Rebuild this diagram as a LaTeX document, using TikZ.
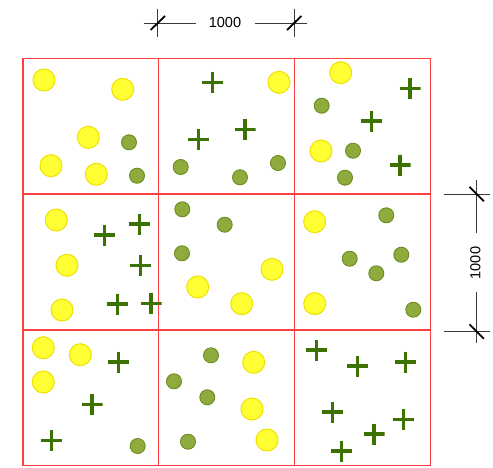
\documentclass[tikz,border=0pt]{standalone}
\usepackage{fontspec}
\setmainfont{Liberation Sans}
\definecolor{gridred}{HTML}{FF3F3F}
\definecolor{yelfill}{HTML}{FFFF33}
\definecolor{yeldraw}{HTML}{EEE000}
\definecolor{grnfill}{HTML}{8FAB3E}
\definecolor{grndraw}{HTML}{6A8C1E}
\definecolor{plusgreen}{HTML}{3B7200}
\definecolor{dimgray}{HTML}{3A3A3A}
\tikzset{
  gridline/.style={draw=gridred, line width=1.3pt},
  yel/.style={circle, fill=yelfill, draw=yeldraw, line width=1pt, minimum size=22pt, inner sep=0pt},
  grn/.style={circle, fill=grnfill, draw=grndraw, line width=0.9pt, minimum size=15pt, inner sep=0pt},
  pl/.style={rectangle, minimum size=21pt, inner sep=0pt,
    path picture={\draw[plusgreen, line width=3.4pt]
      (path picture bounding box.north) -- (path picture bounding box.south)
      (path picture bounding box.west) -- (path picture bounding box.east);}},
  dimline/.style={draw=dimgray, line width=0.9pt},
  slashline/.style={draw=black, line width=1.8pt},
  dimtext/.style={font=\fontsize{14.5}{14.5}\selectfont, text=black, inner sep=0pt}
}
\begin{document}
\begin{tikzpicture}[x=1pt,y=-1pt]
\useasboundingbox (0,0) rectangle (493,467);
% grid
\draw[gridline] (23,58.3) rectangle (430.4,465.7);
\draw[gridline] (158.8,58.3) -- (158.8,465.7);
\draw[gridline] (294.6,58.3) -- (294.6,465.7);
\draw[gridline] (23,194.1) -- (430.4,194.1);
\draw[gridline] (23,329.9) -- (430.4,329.9);

% cell 1,1
\node[yel] (y1) at (44,80) {};
\node[yel] (y2) at (122.7,89.3) {};
\node[yel] (y3) at (88.3,137.3) {};
\node[yel] (y4) at (51,165.7) {};
\node[yel] (y5) at (96.3,174.3) {};
\node[grn] (g1) at (129,142.3) {};
\node[grn] (g2) at (137,175.7) {};
% cell 1,2
\node[pl] (p1) at (212.3,82.3) {};
\node[pl] (p2) at (245,129.3) {};
\node[pl] (p3) at (198.3,139.3) {};
\node[yel] (y6) at (279,82.3) {};
\node[grn] (g3) at (180.7,167) {};
\node[grn] (g4) at (240,177.3) {};
\node[grn] (g5) at (278,163) {};
% cell 1,3
\node[yel] (y7) at (340.7,72.7) {};
\node[yel] (y8) at (321,151) {};
\node[grn] (g6) at (321.7,105.7) {};
\node[grn] (g7) at (353,150.7) {};
\node[grn] (g8) at (345,177.7) {};
\node[pl] (p4) at (410,88.3) {};
\node[pl] (p5) at (371.3,121) {};
\node[pl] (p6) at (400,165) {};
% cell 2,1
\node[yel] (y9) at (56.3,220) {};
\node[yel] (y10) at (67,265.3) {};
\node[yel] (y11) at (62,310) {};
\node[pl] (p7) at (104.3,235) {};
\node[pl] (p8) at (139.3,224) {};
\node[pl] (p9) at (140.3,265.3) {};
\node[pl] (p10) at (117.7,304) {};
\node[pl] (p11) at (151,303.3) {};
% cell 2,2
\node[grn] (g9) at (182.3,209.3) {};
\node[grn] (g10) at (224.7,224.7) {};
\node[grn] (g11) at (182,253.3) {};
\node[yel] (y12) at (272,269.3) {};
\node[yel] (y13) at (197.7,287) {};
\node[yel] (y14) at (241.7,303.7) {};
% cell 2,3
\node[yel] (y15) at (314.7,221.7) {};
\node[yel] (y16) at (314.7,303.7) {};
\node[grn] (g12) at (386.3,215.3) {};
\node[grn] (g13) at (349.7,258.7) {};
\node[grn] (g14) at (401.3,254.7) {};
\node[grn] (g15) at (376.3,273.3) {};
\node[grn] (g16) at (413.3,309.7) {};
% cell 3,1
\node[yel] (y17) at (43.3,347.7) {};
\node[yel] (y18) at (80.3,354.7) {};
\node[yel] (y19) at (43.3,382) {};
\node[pl] (p12) at (118.7,362) {};
\node[pl] (p13) at (92,404.3) {};
\node[pl] (p14) at (51.3,440.3) {};
\node[grn] (g17) at (137.7,446) {};
% cell 3,2
\node[grn] (g18) at (211,355.3) {};
\node[grn] (g19) at (174,381.3) {};
\node[grn] (g20) at (207.3,397.3) {};
\node[grn] (g21) at (188,441.7) {};
\node[yel] (y20) at (253.7,362.3) {};
\node[yel] (y21) at (252,409) {};
\node[yel] (y22) at (267,440) {};
% cell 3,3
\node[pl] (p15) at (316.7,350) {};
\node[pl] (p16) at (357.3,366) {};
\node[pl] (p17) at (405.7,362) {};
\node[pl] (p18) at (332.7,412) {};
\node[pl] (p19) at (403.3,419.3) {};
\node[pl] (p20) at (374,434) {};
\node[pl] (p21) at (341.7,451) {};

% top dimension
\coordinate (tl) at (157.8,23);
\coordinate (tr) at (294.2,23);
\node[dimtext] (ttext) at (225,23) {1000};
\draw[dimline] ([xshift=-14pt]tl) -- ([xshift=38.5pt]tl);
\draw[dimline] ([xshift=-39pt]tr) -- ([xshift=12.7pt]tr);
\draw[dimline] ([yshift=-14pt]tl) -- ([yshift=14pt]tl);
\draw[dimline] ([yshift=-14pt]tr) -- ([yshift=14pt]tr);
\draw[slashline] ([shift={(-7.2,7)}]tl) -- ([shift={(7.2,-7)}]tl);
\draw[slashline] ([shift={(-7.2,7)}]tr) -- ([shift={(7.2,-7)}]tr);

% right dimension
\coordinate (rt) at (476.7,194);
\coordinate (rb) at (476.7,331.5);
\node[dimtext, rotate=90] (rtext) at (475.5,263) {1000};
\draw[dimline] ([yshift=14pt]rt) -- ([yshift=-38.7pt]rt);
\draw[dimline] ([yshift=39.8pt]rb) -- ([yshift=-11.8pt]rb);
\draw[dimline] ([xshift=-32.7pt]rt) -- ([xshift=13.3pt]rt);
\draw[dimline] ([xshift=-32.7pt]rb) -- ([xshift=13.3pt]rb);
\draw[slashline] ([shift={(-7.2,-7.2)}]rt) -- ([shift={(7.2,7.2)}]rt);
\draw[slashline] ([shift={(-7.2,-7.2)}]rb) -- ([shift={(7.2,7.2)}]rb);
\end{tikzpicture}
\end{document}
